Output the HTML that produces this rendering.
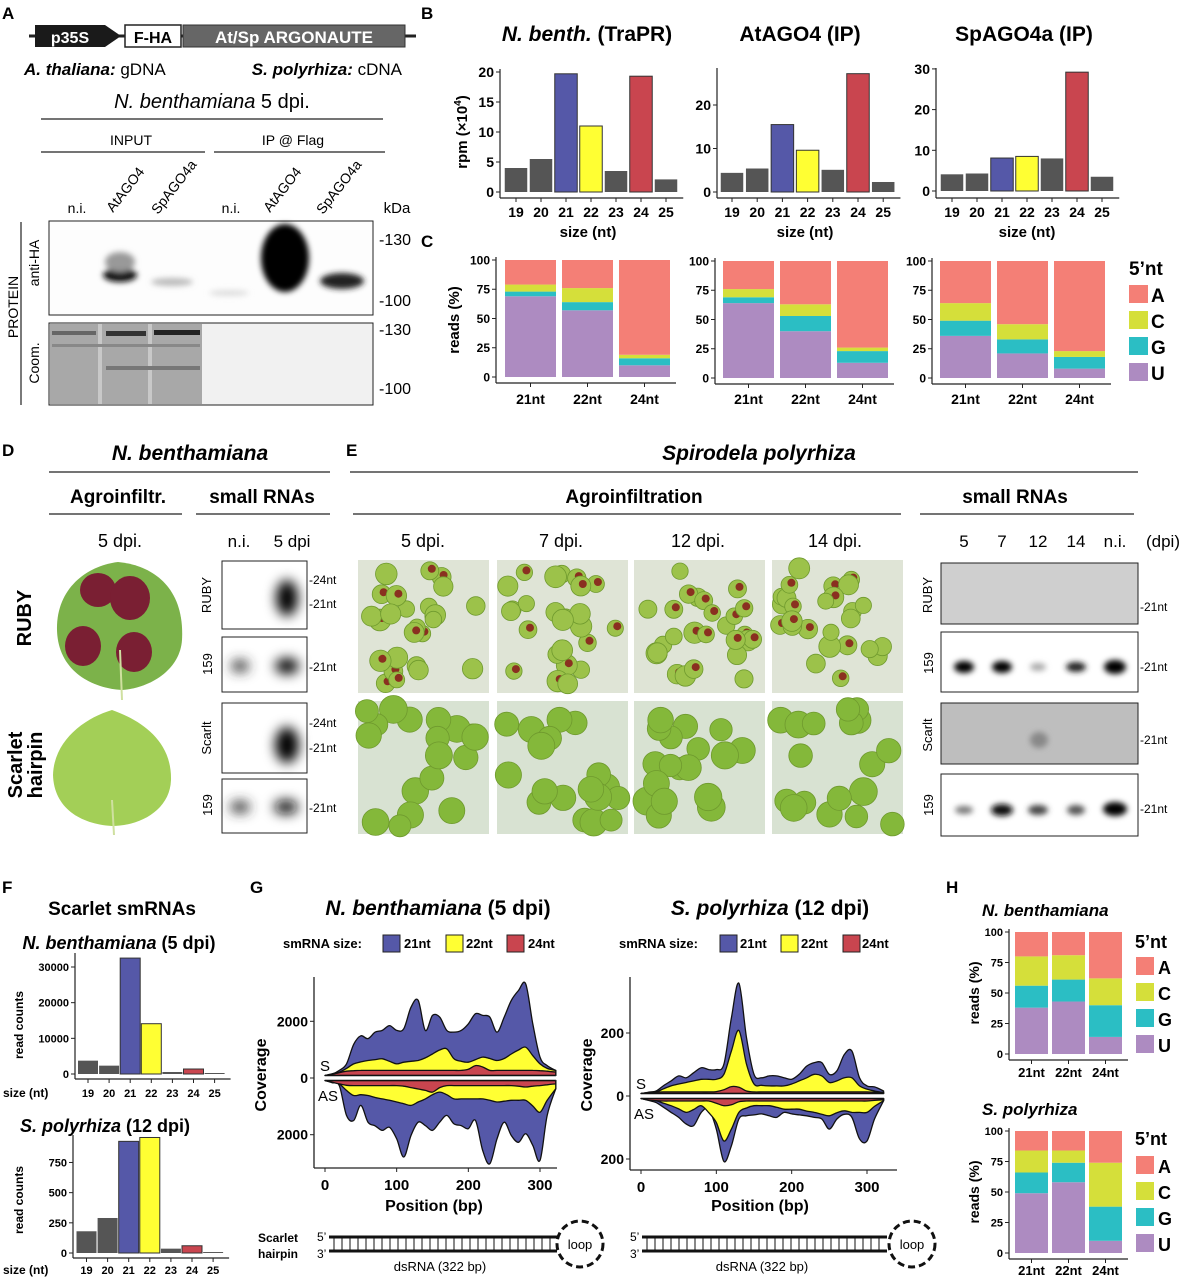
<!DOCTYPE html>
<html><head><meta charset="utf-8">
<style>
html,body{margin:0;padding:0;background:#fff;}
svg{display:block;font-family:"Liberation Sans",Arial,sans-serif;}
.b{font-weight:bold;}
</style></head>
<body>
<svg id="fig" width="1190" height="1280" viewBox="0 0 1190 1280" xmlns="http://www.w3.org/2000/svg">
<defs>
  <filter id="blur3" x="-50%" y="-50%" width="200%" height="200%"><feGaussianBlur stdDeviation="3"/></filter>
  <filter id="blur6" x="-50%" y="-50%" width="200%" height="200%"><feGaussianBlur stdDeviation="6"/></filter>
  <filter id="blur2" x="-50%" y="-50%" width="200%" height="200%"><feGaussianBlur stdDeviation="1.5"/></filter>
</defs>

<!-- PANEL A -->
<g>
  <text x="2" y="19" class="b" font-size="17">A</text>
  <line x1="29" y1="36" x2="416" y2="36" stroke="#222" stroke-width="3"/>
  <polygon points="35,25 105,25 121,36 105,47 35,47" fill="#1a1a1a"/>
  <text x="70" y="43" fill="#fff" class="b" font-size="16" text-anchor="middle">p35S</text>
  <rect x="125" y="25" width="56" height="22" fill="#fff" stroke="#222" stroke-width="1.5"/>
  <text x="153" y="43" class="b" font-size="16" text-anchor="middle">F-HA</text>
  <rect x="183" y="25" width="222" height="22" fill="#666" stroke="#333"/>
  <text x="294" y="43" fill="#fff" class="b" font-size="17" text-anchor="middle">At/Sp ARGONAUTE</text>
  <text x="24" y="75" font-size="17"><tspan class="b" font-style="italic">A. thaliana:</tspan> gDNA</text>
  <text x="402" y="75" font-size="17" text-anchor="end"><tspan class="b" font-style="italic">S. polyrhiza:</tspan> cDNA</text>
  <text x="212" y="108" font-size="20" text-anchor="middle"><tspan font-style="italic">N. benthamiana</tspan>  5 dpi.</text>
  <line x1="41" y1="119" x2="383" y2="119" stroke="#222" stroke-width="1.2"/>
  <text x="131" y="145" font-size="14" text-anchor="middle">INPUT</text>
  <text x="293" y="145" font-size="14" text-anchor="middle">IP @ Flag</text>
  <line x1="41" y1="152" x2="205" y2="152" stroke="#222" stroke-width="1.2"/>
  <line x1="214" y1="152" x2="385" y2="152" stroke="#222" stroke-width="1.2"/>
  <text x="77" y="213" font-size="14" text-anchor="middle">n.i.</text>
  <text x="231" y="213" font-size="14" text-anchor="middle">n.i.</text>
  <text transform="translate(113,213) rotate(-52)" font-size="14">AtAGO4</text>
  <text transform="translate(158,215) rotate(-52)" font-size="14">SpAGO4a</text>
  <text transform="translate(270,213) rotate(-52)" font-size="14">AtAGO4</text>
  <text transform="translate(323,215) rotate(-52)" font-size="14">SpAGO4a</text>
  <text x="397" y="213" font-size="15" text-anchor="middle">kDa</text>
  <rect x="49" y="221" width="324" height="94" fill="#fdfdfd" stroke="#222"/>
  <g filter="url(#blur3)">
    <ellipse cx="120" cy="275" rx="17" ry="7" fill="#111"/>
    <ellipse cx="120" cy="262" rx="15" ry="10" fill="#999"/>
    <ellipse cx="172" cy="282" rx="21" ry="4" fill="#bbb"/>
    <ellipse cx="229" cy="293" rx="20" ry="3" fill="#ddd"/>
    <ellipse cx="285" cy="258" rx="24" ry="34" fill="#000"/>
    <ellipse cx="342" cy="281" rx="22" ry="8" fill="#222"/>
  </g>
  <text x="379" y="245" font-size="16">-130</text>
  <text x="379" y="306" font-size="16">-100</text>
  <rect x="49" y="323" width="324" height="82" fill="#f1f1f1" stroke="#222"/>
  <rect x="50" y="324" width="152" height="80" fill="#a8a8a8"/>
  <rect x="98" y="324" width="4" height="80" fill="#c8c8c8"/>
  <rect x="148" y="324" width="4" height="80" fill="#c8c8c8"/>
  <rect x="106" y="331" width="40" height="5" fill="#333"/>
  <rect x="154" y="330" width="46" height="5" fill="#222"/>
  <rect x="52" y="331" width="44" height="4" fill="#666"/>
  <rect x="52" y="344" width="148" height="3" fill="#888"/>
  <rect x="106" y="366" width="94" height="4" fill="#777"/>
  <text x="379" y="335" font-size="16">-130</text>
  <text x="379" y="394" font-size="16">-100</text>
  <line x1="21" y1="222" x2="21" y2="405" stroke="#222" stroke-width="1.2"/>
  <text transform="translate(18,307) rotate(-90)" font-size="14" text-anchor="middle">PROTEIN</text>
  <text transform="translate(39,263) rotate(-90)" font-size="14" text-anchor="middle">anti-HA</text>
  <text transform="translate(39,363) rotate(-90)" font-size="14" text-anchor="middle">Coom.</text>
</g>

<!-- PANEL B/C labels -->
<text x="421" y="19" class="b" font-size="17">B</text>
<text x="421" y="247" class="b" font-size="17">C</text>
<text x="587" y="41" class="b" font-size="21" text-anchor="middle"><tspan font-style="italic">N. benth.</tspan> (TraPR)</text>
<text x="800" y="41" class="b" font-size="21" text-anchor="middle">AtAGO4 (IP)</text>
<text x="1024" y="41" class="b" font-size="21" text-anchor="middle">SpAGO4a (IP)</text>
<text transform="translate(467,132) rotate(-90)" class="b" font-size="15" text-anchor="middle">rpm (×10<tspan font-size="10" dy="-6">4</tspan><tspan dy="6">)</tspan></text>
<text transform="translate(459,320) rotate(-90)" class="b" font-size="15" text-anchor="middle">reads (%)</text>
<g id="bB"></g><g id="bC"></g>
<g>
  <text x="1129" y="275" class="b" font-size="19">5’nt</text>
  <rect x="1129" y="285" width="19" height="18" fill="#f47f76"/><text x="1151" y="302" class="b" font-size="19">A</text>
  <rect x="1129" y="311" width="19" height="18" fill="#d5df3a"/><text x="1151" y="328" class="b" font-size="19">C</text>
  <rect x="1129" y="337" width="19" height="18" fill="#2bbec4"/><text x="1151" y="354" class="b" font-size="19">G</text>
  <rect x="1129" y="363" width="19" height="18" fill="#ad8bc1"/><text x="1151" y="380" class="b" font-size="19">U</text>
</g>

<!-- PANEL D -->
<g>
  <text x="2" y="456" class="b" font-size="17">D</text>
  <text x="190" y="460" class="b" font-style="italic" font-size="21" text-anchor="middle">N. benthamiana</text>
  <line x1="49" y1="472" x2="330" y2="472" stroke="#222" stroke-width="1.2"/>
  <text x="118" y="503" class="b" font-size="19" text-anchor="middle">Agroinfiltr.</text>
  <text x="262" y="503" class="b" font-size="19" text-anchor="middle">small RNAs</text>
  <line x1="49" y1="514" x2="182" y2="514" stroke="#222" stroke-width="1.2"/>
  <line x1="196" y1="514" x2="330" y2="514" stroke="#222" stroke-width="1.2"/>
  <text x="120" y="547" font-size="18" text-anchor="middle">5 dpi.</text>
  <text x="239" y="547" font-size="17" text-anchor="middle">n.i.</text>
  <text x="292" y="547" font-size="17" text-anchor="middle">5 dpi</text>
  <path d="M118,562 C150,565 185,585 182,640 C180,670 150,688 122,690 C90,688 58,670 57,630 C56,590 85,566 118,562 Z" fill="#7cb24a"/>
  <g fill="#7a1f33">
    <ellipse cx="98" cy="590" rx="18" ry="17"/><ellipse cx="130" cy="598" rx="20" ry="22"/>
    <ellipse cx="83" cy="646" rx="18" ry="20"/><ellipse cx="134" cy="652" rx="18" ry="20"/>
  </g>
  <line x1="120" y1="650" x2="122" y2="700" stroke="#cfe0a0" stroke-width="2"/>
  <path d="M112,710 C140,720 172,740 171,780 C170,810 140,826 112,826 C80,824 54,808 53,775 C54,740 85,718 112,710 Z" fill="#a3cf57"/>
  <line x1="112" y1="800" x2="114" y2="835" stroke="#cfe0a0" stroke-width="2"/>
  <text transform="translate(31,618) rotate(-90)" class="b" font-size="20" text-anchor="middle">RUBY</text>
  <text transform="translate(22,765) rotate(-90)" class="b" font-size="20" text-anchor="middle">Scarlet</text>
  <text transform="translate(42,765) rotate(-90)" class="b" font-size="20" text-anchor="middle">hairpin</text>
  <rect x="222" y="561" width="85" height="68" fill="#fff" stroke="#222"/>
  <rect x="222" y="637" width="85" height="55" fill="#fff" stroke="#222"/>
  <rect x="222" y="703" width="85" height="70" fill="#fff" stroke="#222"/>
  <rect x="222" y="779" width="85" height="54" fill="#fff" stroke="#222"/>
  <g filter="url(#blur6)">
    <ellipse cx="287" cy="598" rx="11" ry="18" fill="#000"/>
    <ellipse cx="240" cy="666" rx="9" ry="6" fill="#333"/>
    <ellipse cx="287" cy="666" rx="12" ry="8" fill="#000"/>
    <ellipse cx="287" cy="745" rx="12" ry="18" fill="#000"/>
    <ellipse cx="240" cy="807" rx="10" ry="6" fill="#333"/>
    <ellipse cx="286" cy="807" rx="12" ry="7" fill="#111"/>
  </g>
  <g font-size="12">
    <text x="309" y="584">-24nt</text><text x="309" y="608">-21nt</text>
    <text x="309" y="671">-21nt</text>
    <text x="309" y="727">-24nt</text><text x="309" y="752">-21nt</text>
    <text x="309" y="812">-21nt</text>
  </g>
  <g font-size="13" text-anchor="middle">
    <text transform="translate(211,595) rotate(-90)">RUBY</text>
    <text transform="translate(212,664) rotate(-90)">159</text>
    <text transform="translate(211,738) rotate(-90)">Scarlt</text>
    <text transform="translate(212,805) rotate(-90)">159</text>
  </g>
</g>

<!-- PANEL E -->
<g>
  <text x="346" y="456" class="b" font-size="17">E</text>
  <text x="759" y="460" class="b" font-style="italic" font-size="21" text-anchor="middle">Spirodela polyrhiza</text>
  <line x1="350" y1="472" x2="1138" y2="472" stroke="#222" stroke-width="1.2"/>
  <text x="634" y="503" class="b" font-size="19" text-anchor="middle">Agroinfiltration</text>
  <text x="1015" y="503" class="b" font-size="19" text-anchor="middle">small RNAs</text>
  <line x1="353" y1="514" x2="901" y2="514" stroke="#222" stroke-width="1.2"/>
  <line x1="920" y1="514" x2="1134" y2="514" stroke="#222" stroke-width="1.2"/>
  <g font-size="18" text-anchor="middle">
    <text x="423" y="547">5 dpi.</text><text x="561" y="547">7 dpi.</text>
    <text x="698" y="547">12 dpi.</text><text x="835" y="547">14 dpi.</text>
  </g>
  <g font-size="17" text-anchor="middle">
    <text x="964" y="547">5</text><text x="1002" y="547">7</text><text x="1038" y="547">12</text>
    <text x="1076" y="547">14</text><text x="1115" y="547">n.i.</text><text x="1163" y="547">(dpi)</text>
  </g>
  <g id="photos"></g>
  <rect x="941" y="563" width="197" height="61" fill="#cfcfcf" stroke="#222"/>
  <rect x="941" y="632" width="197" height="60" fill="#fff" stroke="#222"/>
  <rect x="941" y="703" width="197" height="61" fill="#bebebe" stroke="#222"/>
  <rect x="941" y="774" width="197" height="62" fill="#fff" stroke="#222"/>
  <g filter="url(#blur3)">
    <ellipse cx="964" cy="667" rx="10" ry="6" fill="#000"/>
    <ellipse cx="1002" cy="667" rx="10" ry="6" fill="#000"/>
    <ellipse cx="1038" cy="667" rx="8" ry="4" fill="#aaa"/>
    <ellipse cx="1076" cy="667" rx="10" ry="5" fill="#222"/>
    <ellipse cx="1115" cy="667" rx="11" ry="7" fill="#000"/>
    <ellipse cx="1039" cy="740" rx="9" ry="8" fill="#888"/>
    <ellipse cx="964" cy="810" rx="9" ry="4" fill="#777"/>
    <ellipse cx="1002" cy="810" rx="11" ry="6" fill="#111"/>
    <ellipse cx="1038" cy="810" rx="10" ry="5" fill="#444"/>
    <ellipse cx="1076" cy="810" rx="9" ry="5" fill="#555"/>
    <ellipse cx="1115" cy="809" rx="12" ry="7" fill="#000"/>
  </g>
  <g font-size="12">
    <text x="1140" y="611">-21nt</text><text x="1140" y="671">-21nt</text>
    <text x="1140" y="744">-21nt</text><text x="1140" y="813">-21nt</text>
  </g>
  <g font-size="13" text-anchor="middle">
    <text transform="translate(932,595) rotate(-90)">RUBY</text>
    <text transform="translate(933,663) rotate(-90)">159</text>
    <text transform="translate(932,735) rotate(-90)">Scarlt</text>
    <text transform="translate(933,805) rotate(-90)">159</text>
  </g>
</g>

<!-- PANEL F -->
<g>
  <text x="2" y="893" class="b" font-size="17">F</text>
  <text x="122" y="915" class="b" font-size="19" text-anchor="middle">Scarlet smRNAs</text>
  <text x="119" y="949" class="b" font-size="18" text-anchor="middle"><tspan font-style="italic">N. benthamiana</tspan> (5 dpi)</text>
  <text x="105" y="1132" class="b" font-size="18" text-anchor="middle"><tspan font-style="italic">S. polyrhiza</tspan> (12 dpi)</text>
  <text transform="translate(23,1025) rotate(-90)" class="b" font-size="12" text-anchor="middle">read counts</text>
  <text transform="translate(23,1200) rotate(-90)" class="b" font-size="12" text-anchor="middle">read counts</text>
</g>
<g id="bF"></g>

<!-- PANEL G -->
<g>
  <text x="250" y="893" class="b" font-size="17">G</text>
  <text x="438" y="915" class="b" font-size="21" text-anchor="middle"><tspan font-style="italic">N. benthamiana</tspan> (5 dpi)</text>
  <text x="770" y="915" class="b" font-size="21" text-anchor="middle"><tspan font-style="italic">S. polyrhiza</tspan> (12 dpi)</text>
  <g class="b" font-size="13">
    <text x="283" y="948">smRNA size:</text>
    <rect x="383" y="935" width="17" height="17" fill="#5558a8" stroke="#222"/><text x="404" y="948">21nt</text>
    <rect x="446" y="935" width="17" height="17" fill="#ffff33" stroke="#222"/><text x="466" y="948">22nt</text>
    <rect x="507" y="935" width="17" height="17" fill="#c9454f" stroke="#222"/><text x="528" y="948">24nt</text>
    <text x="619" y="948">smRNA size:</text>
    <rect x="720" y="935" width="17" height="17" fill="#5558a8" stroke="#222"/><text x="740" y="948">21nt</text>
    <rect x="781" y="935" width="17" height="17" fill="#ffff33" stroke="#222"/><text x="801" y="948">22nt</text>
    <rect x="843" y="935" width="17" height="17" fill="#c9454f" stroke="#222"/><text x="862" y="948">24nt</text>
  </g>
  <text transform="translate(266,1075) rotate(-90)" class="b" font-size="16" text-anchor="middle">Coverage</text>
  <text transform="translate(592,1075) rotate(-90)" class="b" font-size="16" text-anchor="middle">Coverage</text>
  <text x="434" y="1211" class="b" font-size="16" text-anchor="middle">Position (bp)</text>
  <text x="760" y="1211" class="b" font-size="16" text-anchor="middle">Position (bp)</text>
</g>
<g id="gG"></g>
<g>
  <text x="298" y="1242" class="b" font-size="12" text-anchor="end">Scarlet</text>
  <text x="298" y="1258" class="b" font-size="12" text-anchor="end">hairpin</text>
  <g id="hp"></g>
</g>

<!-- PANEL H -->
<g>
  <text x="946" y="893" class="b" font-size="17">H</text>
  <text x="982" y="916" class="b" font-style="italic" font-size="17">N. benthamiana</text>
  <text x="982" y="1115" class="b" font-style="italic" font-size="17">S. polyrhiza</text>
  <text transform="translate(979,993) rotate(-90)" class="b" font-size="14" text-anchor="middle">reads (%)</text>
  <text transform="translate(979,1192) rotate(-90)" class="b" font-size="14" text-anchor="middle">reads (%)</text>
  <g class="b" font-size="18">
    <text x="1135" y="948">5’nt</text>
    <rect x="1136" y="957" width="18" height="18" fill="#f47f76"/><text x="1158" y="974">A</text>
    <rect x="1136" y="983" width="18" height="18" fill="#d5df3a"/><text x="1158" y="1000">C</text>
    <rect x="1136" y="1009" width="18" height="18" fill="#2bbec4"/><text x="1158" y="1026">G</text>
    <rect x="1136" y="1035" width="18" height="18" fill="#ad8bc1"/><text x="1158" y="1052">U</text>
    <text x="1135" y="1145">5’nt</text>
    <rect x="1136" y="1156" width="18" height="18" fill="#f47f76"/><text x="1158" y="1173">A</text>
    <rect x="1136" y="1182" width="18" height="18" fill="#d5df3a"/><text x="1158" y="1199">C</text>
    <rect x="1136" y="1208" width="18" height="18" fill="#2bbec4"/><text x="1158" y="1225">G</text>
    <rect x="1136" y="1234" width="18" height="18" fill="#ad8bc1"/><text x="1158" y="1251">U</text>
  </g>
</g>
<g id="bH"></g>
</svg>

<script>
// ===== DATA =====
const sizeCats = ["19","20","21","22","23","24","25"];
const bNbenth = [4.0, 5.5, 19.7, 11.0, 3.5, 19.3, 2.1];
const bAtAGO4 = [4.4, 5.4, 15.5, 9.6, 5.1, 27.2, 2.3];
const bSpAGO4a = [4.1, 4.3, 8.1, 8.5, 8.0, 29.2, 3.5];
const bTicks1 = [0,5,10,15,20];
const bTicks2 = [0,10,20];
const bTicks3 = [0,10,20,30];

const ntCats = ["21nt","22nt","24nt"];
// % of reads per 5' nucleotide, order U,G,C (A = remainder)
const cNbU = [69,57,10], cNbG = [4,7,6], cNbC = [6,12,3];
const cAtU = [64,40,13], cAtG = [5,13,10], cAtC = [7,10,3];
const cSpU = [36,21,8], cSpG = [13,12,10], cSpC = [15,13,5];
const pctTicks = [0,25,50,75,100];

const fNb = [3740, 2340, 32500, 14100, 560, 1400, 280];
const fSp = [180, 290, 925, 957, 36, 60, 8];
const fTicks1 = [0,10000,20000,30000];
const fTicks2 = [0,250,500,750];

const hNbU = [38,43,14], hNbG = [18,18,26], hNbC = [24,20,22];
const hSpU = [49,58,10], hSpG = [17,16,28], hSpC = [18,10,36];

const gPos = [0,10,20,30,40,50,60,70,80,90,100,110,120,130,140,150,160,170,180,190,200,210,220,230,240,250,260,270,280,290,300,310,322];
const gXTicks = [0,100,200,300];
// N. benthamiana coverage (stacked cumulative tops)
const nbS21 = [0,50,180,410,1100,1400,1300,1530,1590,1760,1590,1650,2410,2650,1590,2120,2060,1590,1530,1590,1820,2180,2120,2060,1530,2060,2650,3000,3230,1820,650,350,180];
const nbS22 = [0,60,120,250,410,480,530,560,590,500,410,470,500,530,620,760,900,940,590,500,470,560,650,600,530,600,760,900,1000,700,410,250,180];
const nbS24 = [0,40,100,150,170,180,180,180,180,180,180,180,180,180,180,180,180,180,180,180,220,350,300,180,180,180,180,180,180,180,170,150,120];
const nbAS21 = [0,80,180,1230,1410,880,1470,1600,1760,1650,2060,2700,1940,1470,1590,1760,1470,1230,1530,1590,1700,1410,2470,2940,2060,1470,1940,2180,1880,2290,2820,1230,290];
const nbAS22 = [0,60,120,350,530,500,530,600,650,700,760,820,880,760,650,500,410,500,650,650,650,650,650,700,760,730,700,700,700,900,1120,700,290];
const nbAS24 = [0,60,120,170,180,180,180,180,180,180,180,200,250,300,350,410,250,180,180,180,180,180,180,180,180,180,180,200,230,200,180,150,120];
const nbYTicks = [-2000,0,2000];
// S. polyrhiza coverage
const spS21 = [0,4,8,25,40,56,50,66,82,76,76,93,240,350,177,61,50,56,56,50,45,61,87,98,98,61,72,124,135,50,24,21,8];
const spS22 = [0,3,5,15,24,30,35,40,45,45,45,61,135,200,93,30,26,24,24,24,30,40,50,61,56,35,40,50,50,24,14,8,3];
const spS24 = [0,3,4,5,5,5,5,5,5,5,6,12,22,20,8,5,5,5,5,5,5,5,5,5,5,5,5,5,5,5,5,4,3];
const spAS21 = [0,6,13,28,44,60,81,86,44,34,97,200,150,65,55,52,49,55,60,44,49,52,55,60,65,97,65,50,60,128,135,65,7];
const spAS22 = [0,4,7,15,23,33,44,35,23,45,76,135,97,44,30,23,23,23,28,34,34,34,40,44,50,55,45,39,44,44,44,25,7];
const spAS24 = [0,5,7,8,8,8,8,8,8,8,15,23,20,10,8,8,8,8,8,8,8,8,8,8,8,8,8,8,8,8,8,6,4];
const spYTicks = [-200,0,200];

// ===== HELPERS =====
const NS = "http://www.w3.org/2000/svg";
function mk(tag, parent, attrs) {
  const e = document.createElementNS(NS, tag);
  for (const k in attrs) e.setAttribute(k, attrs[k]);
  parent.appendChild(e);
  return e;
}
function txt(parent, x, y, s, size, anchor, bold) {
  const t = mk("text", parent, {x: x, y: y, "font-size": size, "text-anchor": anchor || "middle"});
  if (bold !== false) t.setAttribute("font-weight", "bold");
  t.textContent = s;
  return t;
}
const BLUE = "#5558a8", YEL = "#ffff33", RED = "#c9454f", GRAY = "#555555";
const barFill = ["", "", BLUE, YEL, "", RED, ""];

// bar chart: o = {ax, cx0, step, w, y0, k, top, xAxisY, lblY, fs, nameLbl}
function barChart(parent, name, cats, vals, ticks, o) {
  const g = mk("g", parent, {});
  
  
  const yS = v => o.y0 - v * o.k;
  mk("line", g, {x1: o.ax, y1: o.top, x2: o.ax, y2: o.xAxisY, stroke: "#222", "stroke-width": 1.2});
  const right = o.cx0 + o.step * (cats.length - 1) + o.w / 2 + 6;
  mk("line", g, {x1: o.ax, y1: o.xAxisY, x2: right, y2: o.xAxisY, stroke: "#222", "stroke-width": 1.2});
  ticks.forEach(t => {
    const y = yS(t);
    mk("line", g, {x1: o.ax - 4, y1: y, x2: o.ax, y2: y, stroke: "#222"});
    const lab = txt(g, o.ax - 6, y + o.fs * 0.36, String(t), o.fs, "end");
    
    
  });
  vals.forEach((v, i) => {
    const cx = o.cx0 + i * o.step;
    const f = barFill[i] || GRAY;
    const r = mk("rect", g, {x: cx - o.w / 2, y: yS(v), width: o.w, height: Math.max(0.5, v * o.k), fill: f, stroke: f === GRAY ? "none" : "#333", "stroke-width": 1});
    
    
    mk("line", g, {x1: cx, y1: o.xAxisY, x2: cx, y2: o.xAxisY + 4, stroke: "#222"});
    const l = txt(g, cx, o.lblY, cats[i], o.fs, "middle");
    
    
  });
  return g;
}

// stacked 5'nt chart: o = {ax, x0, step, w, y100, y0, xAxisY, lblY, fs}
function stackChart(parent, name, cats, U, G, C, o) {
  const g = mk("g", parent, {});
  
  
  const k = (o.y0 - o.y100) / 100;
  const yS = v => o.y0 - v * k;
  mk("line", g, {x1: o.ax, y1: o.y100 - 3, x2: o.ax, y2: o.xAxisY, stroke: "#222", "stroke-width": 1.2});
  const right = o.x0 + o.step * (cats.length - 1) + o.w + 6;
  mk("line", g, {x1: o.ax, y1: o.xAxisY, x2: right, y2: o.xAxisY, stroke: "#222", "stroke-width": 1.2});
  pctTicks.forEach(t => {
    const y = yS(t);
    mk("line", g, {x1: o.ax - 4, y1: y, x2: o.ax, y2: y, stroke: "#222"});
    txt(g, o.ax - 6, y + o.fs * 0.36, String(t), o.fs, "end");
  });
  cats.forEach((c, i) => {
    const x = o.x0 + i * o.step;
    const segs = [["U", 0, U[i], "#ad8bc1"], ["G", U[i], U[i] + G[i], "#2bbec4"], ["C", U[i] + G[i], U[i] + G[i] + C[i], "#d5df3a"], ["A", U[i] + G[i] + C[i], 100, "#f47f76"]];
    segs.forEach(s => {
      const r = mk("rect", g, {x: x, y: yS(s[2]), width: o.w, height: (s[2] - s[1]) * k, fill: s[3]});
      
      
    });
    mk("line", g, {x1: x + o.w / 2, y1: o.xAxisY, x2: x + o.w / 2, y2: o.xAxisY + 4, stroke: "#222"});
    txt(g, x + o.w / 2, o.lblY, c, o.fs + 2, "middle");
  });
}

// smooth path through points (Catmull-Rom)
function smooth(pts) {
  let d = "M" + pts[0][0] + "," + pts[0][1];
  for (let i = 0; i < pts.length - 1; i++) {
    const p0 = pts[Math.max(0, i - 1)], p1 = pts[i], p2 = pts[i + 1], p3 = pts[Math.min(pts.length - 1, i + 2)];
    const c1 = [p1[0] + (p2[0] - p0[0]) / 6, p1[1] + (p2[1] - p0[1]) / 6];
    const c2 = [p2[0] - (p3[0] - p1[0]) / 6, p2[1] - (p3[1] - p1[1]) / 6];
    d += " C" + c1[0].toFixed(1) + "," + c1[1].toFixed(1) + " " + c2[0].toFixed(1) + "," + c2[1].toFixed(1) + " " + p2[0].toFixed(1) + "," + p2[1].toFixed(1);
  }
  return d;
}
// coverage chart: o = {ax, x0, x300, y0, k, top, bottom, right, lblY, gap}
function coverage(parent, name, pos, S21, S22, S24, A21, A22, A24, yt, o) {
  const g = mk("g", parent, {});
  
  
  const xS = p => o.x0 + p * (o.x300 - o.x0) / 300;
  const area = (vals, sign, fill, nm) => {
    const base = o.y0 - sign * o.gap;
    const pts = pos.map((p, i) => [xS(p), base - sign * vals[i] * o.k]);
    const d = smooth(pts) + " L" + xS(pos[pos.length - 1]) + "," + base + " L" + xS(pos[0]) + "," + base + " Z";
    const pth = mk("path", g, {d: d, fill: fill, stroke: "#111", "stroke-width": 1.3, "stroke-linejoin": "round"});
    
    
  };
  area(S21, 1, BLUE, "sense-21nt-area");
  area(S22, 1, YEL, "sense-22nt-area");
  area(S24, 1, RED, "sense-24nt-area");
  area(A21, -1, BLUE, "antisense-21nt-area");
  area(A22, -1, YEL, "antisense-22nt-area");
  area(A24, -1, RED, "antisense-24nt-area");
  mk("rect", g, {x: xS(0), y: o.y0 - o.gap, width: xS(322) - xS(0), height: 2 * o.gap, fill: "#fff"});
  mk("line", g, {x1: xS(0), y1: o.y0 - o.gap, x2: xS(322), y2: o.y0 - o.gap, stroke: "#111", "stroke-width": 1.5});
  mk("line", g, {x1: xS(0), y1: o.y0 + o.gap, x2: xS(322), y2: o.y0 + o.gap, stroke: "#111", "stroke-width": 1.5});
  mk("line", g, {x1: o.ax, y1: o.top, x2: o.ax, y2: o.bottom, stroke: "#222", "stroke-width": 1.3});
  mk("line", g, {x1: o.ax, y1: o.bottom, x2: o.right, y2: o.bottom, stroke: "#222", "stroke-width": 1.3});
  yt.forEach(t => {
    const y = o.y0 - t * o.k;
    mk("line", g, {x1: o.ax - 4, y1: y, x2: o.ax, y2: y, stroke: "#222"});
    txt(g, o.ax - 6, y + 5, String(Math.abs(t)), 14, "end");
  });
  gXTicks.forEach(t => {
    mk("line", g, {x1: xS(t), y1: o.bottom, x2: xS(t), y2: o.bottom + 4, stroke: "#222"});
    txt(g, xS(t), o.lblY, String(t), 15, "middle");
  });
  txt(g, o.ax + 6, o.y0 - 7, "S", 15, "start", false);
  txt(g, o.ax + 4, o.y0 + 23, "AS", 15, "start", false);
}

// ===== DRAW =====
const svg = document.getElementById("fig");
const bB = document.getElementById("bB");
barChart(bB, "chart-b-nbenth", sizeCats, bNbenth, bTicks1, {ax: 500, cx0: 516, step: 25, w: 22.5, y0: 192, k: 6, top: 69, xAxisY: 198, lblY: 217, fs: 14});
barChart(bB, "chart-b-atago4", sizeCats, bAtAGO4, bTicks2, {ax: 717, cx0: 732, step: 25.2, w: 22.5, y0: 192, k: 4.35, top: 68, xAxisY: 198, lblY: 217, fs: 14});
barChart(bB, "chart-b-spago4a", sizeCats, bSpAGO4a, bTicks3, {ax: 936, cx0: 952, step: 25, w: 22.5, y0: 191, k: 4.07, top: 68, xAxisY: 198, lblY: 217, fs: 14});
["588","805","1027"].forEach(x => { txt(bB, +x, 237, "size (nt)", 15, "middle"); });

const bC = document.getElementById("bC");
stackChart(bC, "chart-c-nbenth", ntCats, cNbU, cNbG, cNbC, {ax: 496, x0: 505, step: 57, w: 51, y100: 260, y0: 377, xAxisY: 383, lblY: 404, fs: 12});
stackChart(bC, "chart-c-atago4", ntCats, cAtU, cAtG, cAtC, {ax: 715, x0: 723, step: 57, w: 51, y100: 261, y0: 378, xAxisY: 384, lblY: 404, fs: 12});
stackChart(bC, "chart-c-spago4a", ntCats, cSpU, cSpG, cSpC, {ax: 932, x0: 940, step: 57, w: 51, y100: 261, y0: 378, xAxisY: 384, lblY: 404, fs: 12});

const bF = document.getElementById("bF");
barChart(bF, "chart-f-nbenth", sizeCats, fNb, fTicks1, {ax: 75, cx0: 88, step: 21.1, w: 20, y0: 1074, k: 107 / 30000, top: 953, xAxisY: 1079, lblY: 1097, fs: 11});
barChart(bF, "chart-f-spolyrhiza", sizeCats, fSp, fTicks2, {ax: 73, cx0: 86.5, step: 21.1, w: 20, y0: 1253, k: 0.1207, top: 1135, xAxisY: 1258, lblY: 1274, fs: 11});
txt(bF, 3, 1097, "size (nt)", 12, "start");
txt(bF, 3, 1274, "size (nt)", 12, "start");

const gG = document.getElementById("gG");
coverage(gG, "coverage-nbenth", gPos, nbS21, nbS22, nbS24, nbAS21, nbAS22, nbAS24, nbYTicks, {ax: 314, x0: 325, x300: 540, y0: 1078, k: 56.7 / 2000, top: 977, bottom: 1168, right: 557, lblY: 1190, gap: 2.5});
coverage(gG, "coverage-spolyrhiza", gPos, spS21, spS22, spS24, spAS21, spAS22, spAS24, spYTicks, {ax: 630, x0: 641, x300: 867, y0: 1096, k: 63 / 200, top: 977, bottom: 1170, right: 897, lblY: 1192, gap: 2.5});

const bH = document.getElementById("bH");
stackChart(bH, "chart-h-nbenth", ntCats, hNbU, hNbG, hNbC, {ax: 1009, x0: 1015, step: 37, w: 33, y100: 932, y0: 1054, xAxisY: 1060, lblY: 1077, fs: 11});
stackChart(bH, "chart-h-spolyrhiza", ntCats, hSpU, hSpG, hSpC, {ax: 1009, x0: 1015, step: 37, w: 33, y100: 1131, y0: 1253, xAxisY: 1259, lblY: 1275, fs: 11});

// hairpin diagrams
const hp = document.getElementById("hp");
[[329, 557, 580, 440], [642, 887, 912, 762]].forEach((h, idx) => {
  const g = mk("g", hp, {});
  
  
  mk("line", g, {x1: h[0], y1: 1237, x2: h[1], y2: 1237, stroke: "#111", "stroke-width": 3});
  mk("line", g, {x1: h[0], y1: 1251, x2: h[1], y2: 1251, stroke: "#111", "stroke-width": 3});
  for (let x = h[0] + 5; x < h[1]; x += 8) mk("line", g, {x1: x, y1: 1237, x2: x, y2: 1251, stroke: "#111", "stroke-width": 1});
  mk("circle", g, {cx: h[2], cy: 1244, r: 23, fill: "none", stroke: "#111", "stroke-width": 3, "stroke-dasharray": "7,4"});
  txt(g, h[2], 1249, "loop", 13, "middle", false);
  txt(g, h[0] - 12, 1241, "5’", 12, "start", false);
  txt(g, h[0] - 12, 1258, "3’", 12, "start", false);
  txt(g, h[3], 1271, "dsRNA (322 bp)", 13, "middle", false);
});

// photos (decorative duckweed)
const ph = document.getElementById("photos");
const cols = [358, 497, 634, 772], rows = [560, 701];
let seed = 7;
function rnd() { seed = (seed * 9301 + 49297) % 233280; return seed / 233280; }
rows.forEach((ry, ri) => cols.forEach((cx, ci) => {
  const g = mk("g", ph, {});
  
  
  mk("rect", g, {x: cx, y: ry, width: 131, height: 133, fill: ri === 0 ? "#dfe4d6" : "#d8e2d2"});
  const n = ri === 0 ? 26 : 18;
  for (let i = 0; i < n; i++) {
    const x = cx + 8 + rnd() * 115, y = ry + 8 + rnd() * 117, r = ri === 0 ? 8 + rnd() * 3 : 11 + rnd() * 3;
    mk("circle", g, {cx: x.toFixed(1), cy: y.toFixed(1), r: r.toFixed(1), fill: ri === 0 ? "#9cc24a" : "#84b83a", stroke: "#6f9a2e", "stroke-width": 0.8});
    if (ri === 0 && rnd() < 0.45) mk("circle", g, {cx: (x + 2).toFixed(1), cy: (y - 2).toFixed(1), r: 4, fill: "#8a3020"});
  }
}));
</script>
</body></html>
